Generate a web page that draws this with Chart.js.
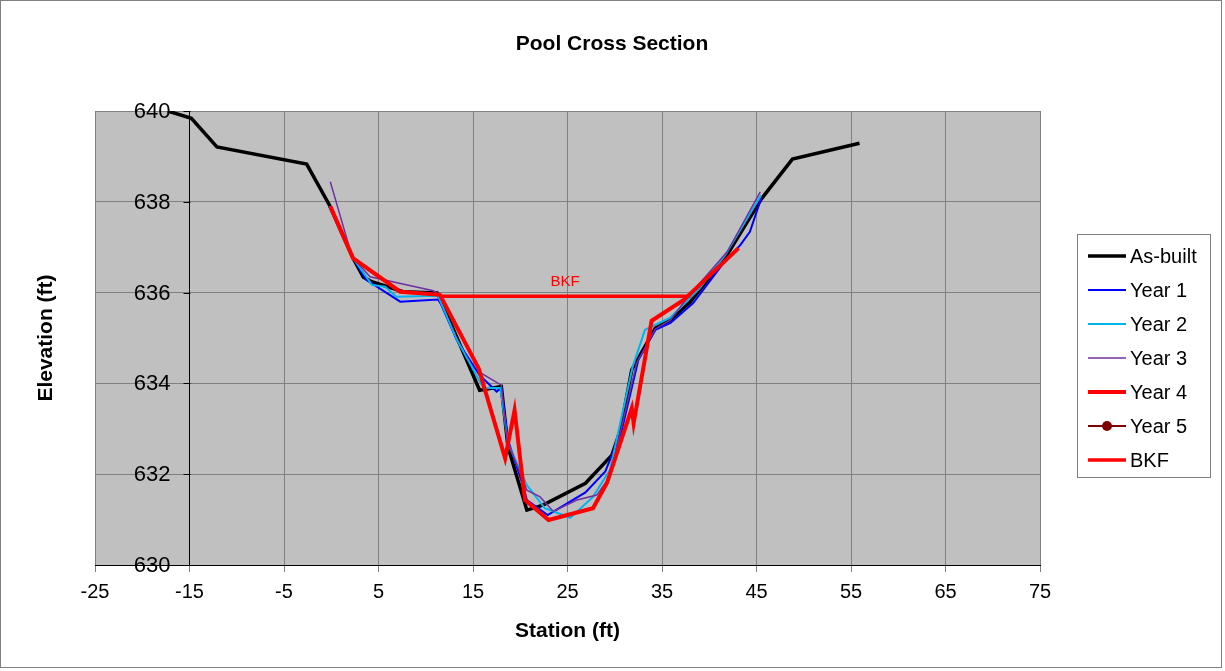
<!DOCTYPE html>
<html>
<head>
<meta charset="utf-8">
<title>Pool Cross Section</title>
<script src="https://cdn.jsdelivr.net/npm/chart.js@4.4.0/dist/chart.umd.min.js"></script>
<style>
    html, body { margin: 0; padding: 0; background: #fff; }
    #wrap { width: 1225px; height: 671px; position: relative; }
</style>
</head>
<body>
<div id="wrap"><canvas id="lineChart"></canvas></div>
<script>
// Station (ft) / elevation (ft) pairs
const asBuiltStation = [-17.3, -14.8, -12.1, -2.6, -0.2, 2.3, 3.4, 4.3, 7.6, 11.2, 11.5, 15.7, 18.0, 18.7, 20.7, 22.4, 26.9, 29.7, 30.6, 31.8, 34.3, 35.9, 38.0, 41.8, 45.5, 48.8, 55.9];
const asBuiltElev = [640.0, 639.84, 639.21, 638.83, 637.93, 636.76, 636.34, 636.24, 636.02, 635.99, 635.88, 633.85, 633.93, 632.6, 631.21, 631.32, 631.8, 632.42, 632.97, 634.3, 635.22, 635.4, 635.8, 636.8, 638.06, 638.94, 639.29];

const year1Station = [-0.2, 2.3, 3.7, 7.3, 11.3, 11.6, 13.3, 15.7, 17.5, 18.0, 18.7, 20.1, 20.7, 22.9, 26.9, 29.0, 30.7, 32.5, 34.3, 35.9, 38.3, 41.5, 43.3, 44.3, 45.5];
const year1Elev = [637.9, 636.76, 636.28, 635.8, 635.85, 635.75, 634.95, 634.18, 633.82, 633.9, 632.75, 631.87, 631.43, 631.1, 631.6, 632.06, 632.93, 634.52, 635.18, 635.33, 635.77, 636.65, 637.05, 637.34, 638.08];

const year2Station = [-0.2, 2.3, 4.3, 5.7, 6.9, 11.3, 13.3, 16.1, 17.9, 18.7, 20.7, 22.6, 25.3, 27.7, 29.5, 31.9, 33.2, 35.9, 39.0, 41.7, 45.5];
const year2Elev = [637.9, 636.76, 636.17, 636.13, 635.91, 635.93, 634.96, 633.9, 633.9, 632.68, 631.76, 631.25, 631.04, 631.5, 632.1, 634.37, 635.18, 635.45, 636.1, 636.83, 638.15];

const year3Station = [-0.1, 2.2, 4.1, 10.8, 11.5, 15.9, 18.0, 18.6, 20.7, 22.1, 23.5, 26.0, 28.1, 29.5, 32.3, 34.3, 35.9, 37.8, 41.9, 45.4];
const year3Elev = [638.44, 636.79, 636.35, 636.04, 635.95, 634.22, 633.96, 632.75, 631.65, 631.5, 631.18, 631.43, 631.54, 631.95, 634.44, 635.2, 635.4, 635.92, 636.9, 638.22];

const year4Station = [-0.1, 2.3, 7.3, 11.5, 15.6, 18.4, 19.4, 20.5, 23.0, 27.7, 29.2, 31.8, 32.0, 33.9, 37.3, 43.1];
const year4Elev = [637.9, 636.76, 636.02, 635.95, 634.33, 632.35, 633.41, 631.43, 630.99, 631.25, 631.82, 633.45, 633.12, 635.38, 635.84, 636.98];

const year5Station = [];
const year5Elev = [];

const bkfStation = [11.5, 38.0];
const bkfElev = [635.92, 635.92];

const xTicks = [-25, -15, -5, 5, 15, 25, 35, 45, 55, 65, 75];
const yTicks = [630, 632, 634, 636, 638, 640];
const yAxisCross = -15;

const FONT = '"Liberation Sans", Arial, sans-serif';

const toPoints = (xs, ys) => xs.map((x, i) => ({ x: x, y: ys[i] }));

const makeSeries = (label, xs, ys, color, width, order, extra) => Object.assign({
    label: label,
    data: toPoints(xs, ys),
    borderColor: color,
    backgroundColor: color,
    borderWidth: width,
    pointRadius: 0,
    tension: 0,
    fill: false,
    order: order,
}, extra || {});

// Background, titles, y tick labels, legend box and the BKF label
const decorations = {
    id: 'decorations',
    beforeDraw: (chart) => {
        const { ctx, chartArea } = chart;
        ctx.save();
        ctx.fillStyle = '#ffffff';
        ctx.fillRect(0, 0, chart.width, chart.height);
        ctx.fillStyle = '#c0c0c0';
        ctx.fillRect(chartArea.left, chartArea.top, chartArea.right - chartArea.left, chartArea.bottom - chartArea.top);
        ctx.restore();
    },
    afterDraw: (chart) => {
        const { ctx, chartArea } = chart;
        const xs = chart.scales.x;
        const ys = chart.scales.y;
        ctx.save();

        // outer frame
        ctx.strokeStyle = '#808080';
        ctx.lineWidth = 1;
        ctx.strokeRect(0.5, 0.5, 1221, 667);

        // value axis crosses at station -15: tick marks and labels sit left of it
        const axisX = Math.round(xs.getPixelForValue(yAxisCross)) + 0.5;
        ctx.strokeStyle = '#000';
        ctx.fillStyle = '#000';
        ctx.font = '22px ' + FONT;
        ctx.textAlign = 'right';
        ctx.textBaseline = 'middle';
        ys.ticks.forEach((t) => {
            const py = Math.round(ys.getPixelForValue(t.value)) + 0.5;
            ctx.beginPath();
            ctx.moveTo(axisX - 7, py);
            ctx.lineTo(axisX, py);
            ctx.stroke();
            ctx.fillText(String(t.value), axisX - 20, py);
        });

        // titles
        ctx.textAlign = 'center';
        ctx.font = 'bold 21px ' + FONT;
        ctx.fillText('Pool Cross Section', 612, 44);
        ctx.fillText('Station (ft)', (chartArea.left + chartArea.right) / 2, 631);
        ctx.save();
        ctx.translate(46, (chartArea.top + chartArea.bottom) / 2);
        ctx.rotate(-Math.PI / 2);
        ctx.fillText('Elevation (ft)', 0, 0);
        ctx.restore();

        // BKF label above the middle of the bankfull line
        const midX = (bkfStation[0] + bkfStation[bkfStation.length - 1]) / 2;
        ctx.fillStyle = '#ff0000';
        ctx.font = '15px ' + FONT;
        ctx.fillText('BKF', xs.getPixelForValue(midX), ys.getPixelForValue(bkfElev[0]) - 14);

        // legend
        const boxX = 1077.5, boxY = 234.5, boxW = 133, boxH = 243;
        ctx.fillStyle = '#ffffff';
        ctx.fillRect(boxX, boxY, boxW, boxH);
        ctx.strokeStyle = '#808080';
        ctx.lineWidth = 1;
        ctx.strokeRect(boxX, boxY, boxW, boxH);
        ctx.font = '20px ' + FONT;
        ctx.textAlign = 'left';
        chart.data.datasets.forEach((ds, i) => {
            const y = 256 + i * 34;
            ctx.strokeStyle = ds.borderColor;
            ctx.lineWidth = Math.min(ds.borderWidth, 4);
            ctx.beginPath();
            ctx.moveTo(1088, y);
            ctx.lineTo(1126, y);
            ctx.stroke();
            if (ds.legendMarker) {
                ctx.fillStyle = ds.borderColor;
                ctx.beginPath();
                ctx.arc(1107, y, 5, 0, Math.PI * 2);
                ctx.fill();
            }
            ctx.fillStyle = '#000';
            ctx.fillText(ds.label, 1130, y + 1);
        });
        ctx.restore();
    },
};

const ctx = document.getElementById('lineChart').getContext('2d');

new Chart(ctx, {
    type: 'line',
    data: {
        datasets: [
            makeSeries('As-built', asBuiltStation, asBuiltElev, '#000000', 3.5, 6),
            makeSeries('Year 1', year1Station, year1Elev, '#0000ff', 2, 5),
            makeSeries('Year 2', year2Station, year2Elev, '#00b4f0', 2, 4),
            makeSeries('Year 3', year3Station, year3Elev, '#7030a0', 1.5, 3),
            makeSeries('Year 4', year4Station, year4Elev, '#ff0000', 4, 2),
            makeSeries('Year 5', year5Station, year5Elev, '#800000', 2, 1, { pointRadius: 5, legendMarker: true }),
            makeSeries('BKF', bkfStation, bkfElev, '#ff0000', 3.5, 0),
        ],
    },
    options: {
        responsive: true,
        maintainAspectRatio: false,
        animation: false,
        devicePixelRatio: 1,
        layout: {
            padding: { left: 95, right: 185, top: 111, bottom: 66 },
        },
        plugins: {
            legend: { display: false },
            title: { display: false },
            tooltip: { enabled: false },
        },
        scales: {
            x: {
                type: 'linear',
                position: 'bottom',
                min: -25,
                max: 75,
                afterBuildTicks: (scale) => {
                    scale.ticks = xTicks.map((v) => ({ value: v }));
                },
                afterFit: (scale) => {
                    scale.height = 40;
                },
                ticks: {
                    autoSkip: false,
                    maxRotation: 0,
                    padding: 8,
                    color: '#000',
                    font: { family: FONT, size: 20 },
                },
                grid: { color: '#808080', tickColor: '#808080', tickLength: 7 },
                border: { color: '#000000', width: 1 },
            },
            y: {
                type: 'linear',
                position: { x: yAxisCross },
                min: 630,
                max: 640,
                afterBuildTicks: (scale) => {
                    scale.ticks = yTicks.map((v) => ({ value: v }));
                },
                ticks: { display: false },
                grid: { color: '#808080', tickLength: 0 },
                border: { color: '#000000', width: 1 },
            },
        },
    },
    plugins: [decorations],
});
</script>
</body>
</html>
